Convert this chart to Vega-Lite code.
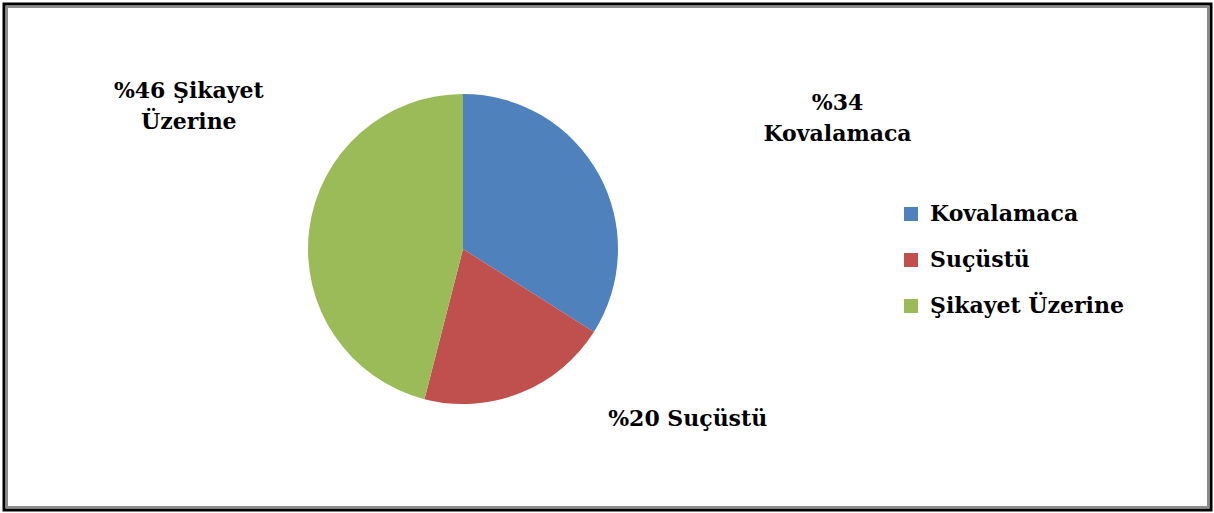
{
  "$schema": "https://vega.github.io/schema/vega-lite/v6.json",
  "width": 1207,
  "height": 506,
  "autosize": {"type": "none"},
  "padding": 4,
  "background": "white",
  "config": {
    "view": {"stroke": null},
    "font": "DejaVu Serif"
  },
  "data": {
    "values": [
      {"cat": "Kovalamaca", "value": 34, "label": "%34\nKovalamaca"},
      {"cat": "Suçüstü", "value": 20, "label": "%20 Suçüstü"},
      {"cat": "Şikayet Üzerine", "value": 46, "label": "%46 Şikayet\nÜzerine"}
    ]
  },
  "layer": [
    {
      "data": {"values": [{"frame": "outer"}]},
      "mark": {"type": "rect", "fill": null, "stroke": "black", "strokeWidth": 3},
      "encoding": {
        "x": {"value": 0},
        "x2": {"value": {"expr": "width"}},
        "y": {"value": 0},
        "y2": {"value": {"expr": "height"}}
      }
    },
    {
      "data": {"values": [{"frame": "inner"}]},
      "mark": {"type": "rect", "fill": null, "stroke": "#8c8c8c", "strokeWidth": 2},
      "encoding": {
        "x": {"value": 3},
        "x2": {"value": {"expr": "width - 3"}},
        "y": {"value": 3},
        "y2": {"value": {"expr": "height - 3"}}
      }
    },
    {
      "mark": {"type": "arc", "outerRadius": 155, "x": 459, "y": 245, "stroke": null},
      "encoding": {
        "theta": {"field": "value", "type": "quantitative", "stack": true},
        "order": {"field": "cat", "type": "nominal"},
        "color": {
          "field": "cat",
          "type": "nominal",
          "scale": {
            "domain": ["Kovalamaca", "Suçüstü", "Şikayet Üzerine"],
            "range": ["#4F81BD", "#C0504D", "#9BBB59"]
          },
          "legend": {
            "orient": "none",
            "legendX": 896,
            "legendY": 199,
            "title": null,
            "symbolType": "square",
            "symbolSize": 196,
            "symbolStrokeWidth": 0,
            "labelFont": "DejaVu Serif",
            "labelFontWeight": "bold",
            "labelFontSize": 22,
            "labelColor": "black",
            "labelOffset": 8,
            "labelLimit": 400,
            "rowPadding": 24,
            "padding": 0
          }
        }
      }
    },
    {
      "mark": {"type": "text", "radius": 230, "x": 459, "y": 245, "dx": 173, "dy": -35, "font": "DejaVu Serif", "fontWeight": "bold", "fontSize": 22, "lineBreak": "\n", "lineHeight": 31, "align": "center", "baseline": "middle"},
      "encoding": {
        "theta": {"field": "value", "type": "quantitative", "stack": true},
        "order": {"field": "cat", "type": "nominal"},
        "color": {"value": "black"},
        "text": {"condition": {"test": "datum.cat === 'Kovalamaca'", "field": "label"}, "value": ""}
      }
    },
    {
      "mark": {"type": "text", "radius": 230, "x": 459, "y": 245, "dx": 140, "dy": -44, "font": "DejaVu Serif", "fontWeight": "bold", "fontSize": 22, "lineBreak": "\n", "lineHeight": 31, "align": "center", "baseline": "middle"},
      "encoding": {
        "theta": {"field": "value", "type": "quantitative", "stack": true},
        "order": {"field": "cat", "type": "nominal"},
        "color": {"value": "black"},
        "text": {"condition": {"test": "datum.cat === 'Suçüstü'", "field": "label"}, "value": ""}
      }
    },
    {
      "mark": {"type": "text", "radius": 230, "x": 459, "y": 245, "dx": -46, "dy": -129, "font": "DejaVu Serif", "fontWeight": "bold", "fontSize": 22, "lineBreak": "\n", "lineHeight": 31, "align": "center", "baseline": "middle"},
      "encoding": {
        "theta": {"field": "value", "type": "quantitative", "stack": true},
        "order": {"field": "cat", "type": "nominal"},
        "color": {"value": "black"},
        "text": {"condition": {"test": "datum.cat === 'Şikayet Üzerine'", "field": "label"}, "value": ""}
      }
    }
  ]
}
